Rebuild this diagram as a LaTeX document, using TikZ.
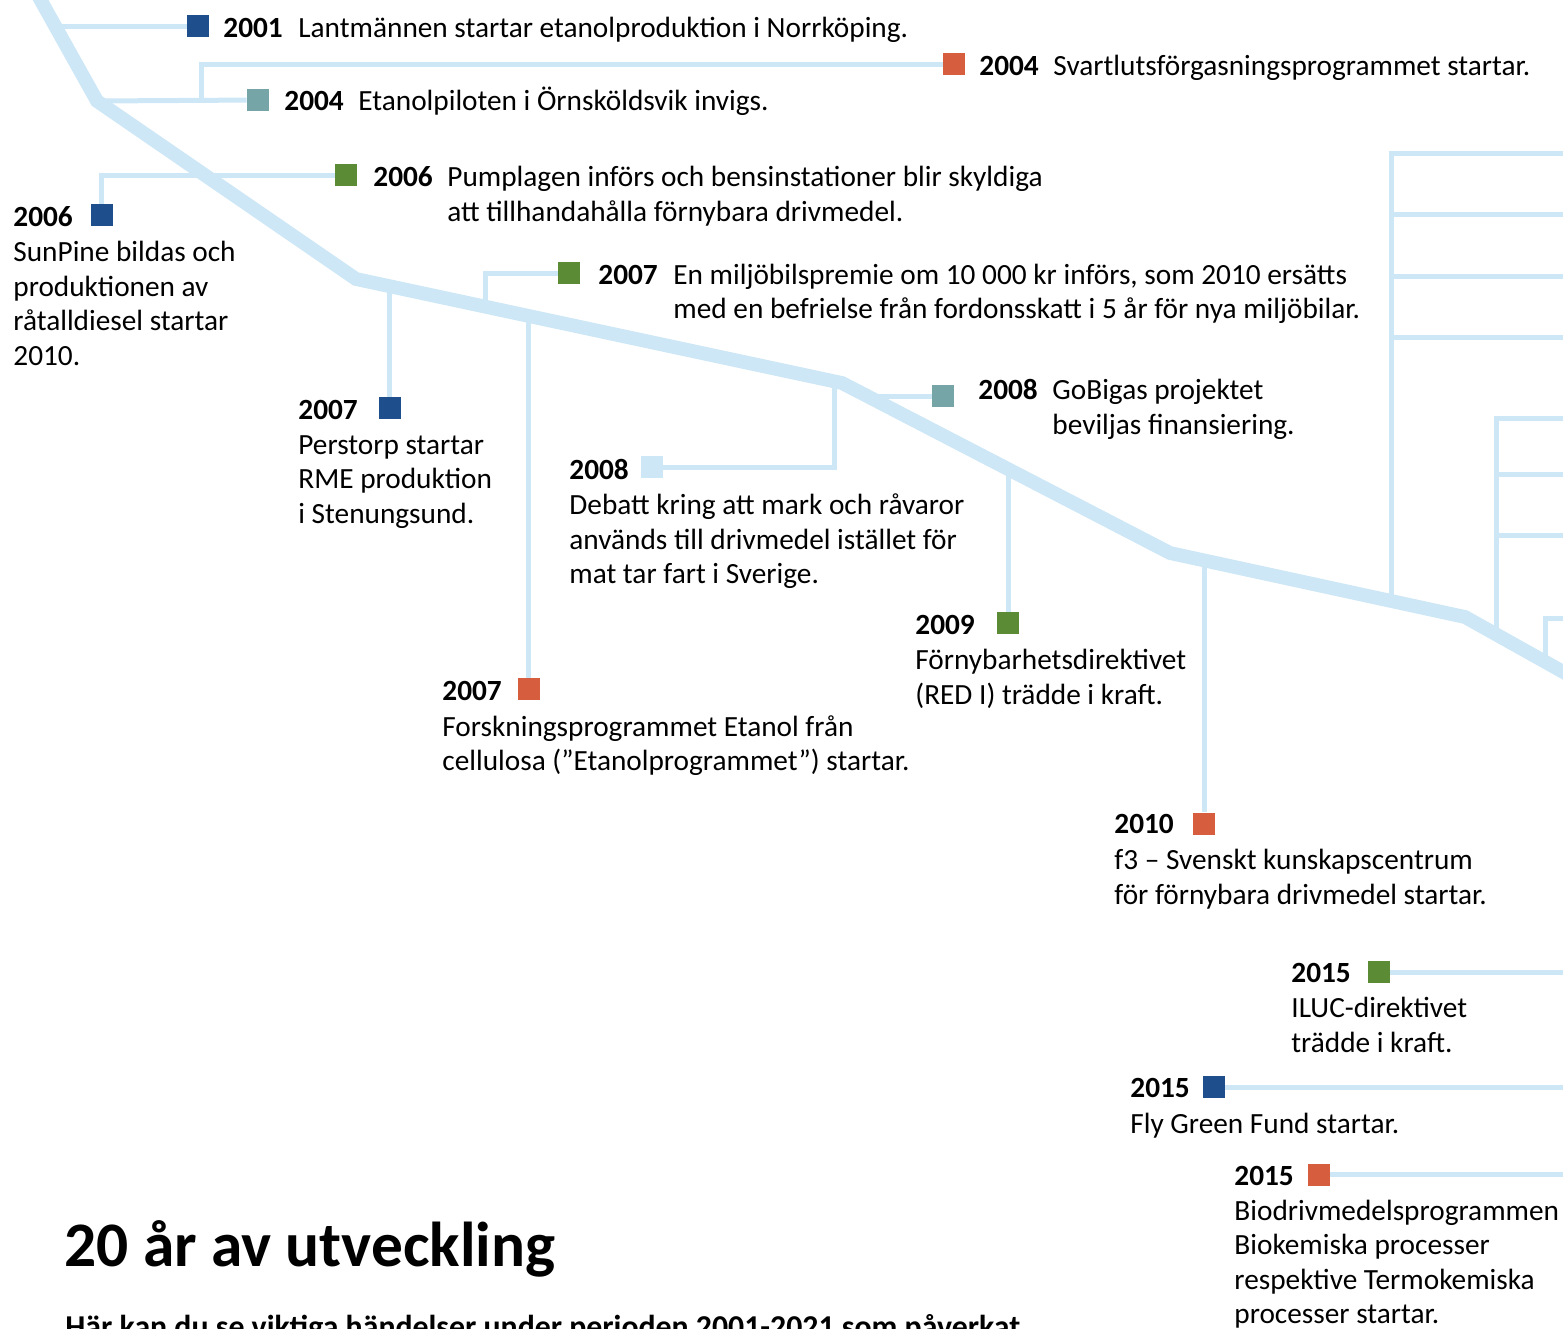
\documentclass[tikz,border=0pt]{standalone}
\usepackage{fontspec}
\setmainfont{Carlito}
\definecolor{lineblue}{HTML}{CDE7F7}
\definecolor{cblue}{HTML}{1F4E8C}
\definecolor{cteal}{HTML}{76A5A8}
\definecolor{cgreen}{HTML}{5B8B35}
\definecolor{corange}{HTML}{D65E3F}
\tikzset{
  mainline/.style={draw=lineblue, line width=6.9pt},
  branch/.style={draw=lineblue, line width=2.5pt},
  sq/.style={rectangle, minimum size=11pt, inner sep=0pt, draw=none},
  txt/.style={anchor=base west, inner sep=0pt, font=\fontsize{14.65}{17.35}\selectfont},
  yr/.style={anchor=base west, inner sep=0pt, font=\fontsize{14.65}{17.35}\selectfont\bfseries},
}
\begin{document}
\begin{tikzpicture}[x=0.5pt, y=-0.5pt]
\useasboundingbox (0,0) rectangle (1563,1328);
\clip (0,0) rectangle (1563,1328);

% squares
\node[sq, fill=cblue]   (s2001)  at (198,26) {};
\node[sq, fill=corange] (s2004o) at (954,64) {};
\node[sq, fill=cteal]   (s2004t) at (258,100) {};
\node[sq, fill=cgreen]  (s2006g) at (346,175) {};
\node[sq, fill=cblue]   (s2006b) at (101.5,215) {};
\node[sq, fill=cblue]   (s2007b) at (389.5,408) {};
\node[sq, fill=cgreen]  (s2007g) at (569,273) {};
\node[sq, fill=corange] (s2007o) at (528.5,689) {};
\node[sq, fill=cteal]   (s2008t) at (943,396) {};
\node[sq, fill=lineblue](s2008l) at (652,467) {};
\node[sq, fill=cgreen]  (s2009)  at (1008,623) {};
\node[sq, fill=corange] (s2010)  at (1204,823.5) {};
\node[sq, fill=cgreen]  (s2015g) at (1379,972) {};
\node[sq, fill=cblue]   (s2015b) at (1214,1087) {};
\node[sq, fill=corange] (s2015o) at (1319,1174.5) {};

% junction coordinates on the main line
\coordinate (m0) at (35,-10);
\coordinate (m1) at (97,101);
\coordinate (m2) at (356,279);
\coordinate (m3) at (842,383);
\coordinate (m4) at (1170,553);
\coordinate (m5) at (1465,617);
\coordinate (m6) at (1600,692.5);
\coordinate (j2001) at (54,26);
\coordinate (k2004) at (201,100);
\coordinate (j2007b) at (389.5,282);
\coordinate (j2007g) at (485.5,304);
\coordinate (j2007o) at (528.5,312);
\coordinate (j2008l) at (834.5,378);
\coordinate (j2008t) at (862,396);
\coordinate (j2009) at (1008,466);
\coordinate (j2010) at (1204,557);
\coordinate (ja) at (1391.5,598);
\coordinate (jb) at (1496.5,631);
\coordinate (jc) at (1545.5,659);
\coordinate (e1) at (1580,153.5);
\coordinate (e2) at (1580,214.5);
\coordinate (e3) at (1580,276.5);
\coordinate (e4) at (1580,337.5);
\coordinate (e5) at (1580,418.5);
\coordinate (e6) at (1580,474.5);
\coordinate (e7) at (1580,535.5);
\coordinate (e8) at (1580,618.5);
\coordinate (e9) at (1580,972);
\coordinate (e10) at (1580,1087);
\coordinate (e11) at (1580,1174.5);

% branches
\draw[branch] (j2001) -- (s2001);
\draw[branch] (m1) -- (s2004t);
\draw[branch] (k2004) |- (s2004o);
\draw[branch] (s2006g) -| (s2006b);
\draw[branch] (j2007b) -- (s2007b);
\draw[branch] (j2007g) |- (s2007g);
\draw[branch] (j2007o) -- (s2007o);
\draw[branch] (j2008l) |- (s2008l);
\draw[branch] (j2008t) -- (s2008t);
\draw[branch] (j2009) -- (s2009);
\draw[branch] (j2010) -- (s2010);
\draw[branch] (ja) |- (e1);
\draw[branch] (ja |- e2) -- (e2);
\draw[branch] (ja |- e3) -- (e3);
\draw[branch] (ja |- e4) -- (e4);
\draw[branch] (jb) |- (e5);
\draw[branch] (jb |- e6) -- (e6);
\draw[branch] (jb |- e7) -- (e7);
\draw[branch] (jc) |- (e8);
\draw[branch] (s2015g) -- (e9);
\draw[branch] (s2015b) -- (e10);
\draw[branch] (s2015o) -- (e11);

% main line
\draw[mainline] (m0) -- (m1) -- (m2) -- (m3) -- (m4) -- (m5) -- (m6);

% texts
\node[yr]  (y2001) at (223,37) {2001};
\node[txt] (t2001) at (298,37) {Lantmännen startar etanolproduktion i Norrköping.};

\node[yr]  (y2004o) at (979,75) {2004};
\node[txt] (t2004o) at (1053,75) {Svartlutsförgasningsprogrammet startar.};

\node[yr]  (y2004t) at (284,110) {2004};
\node[txt] (t2004t) at (358,110) {Etanolpiloten i Örnsköldsvik invigs.};

\node[yr]  (y2006g) at (373,186) {2006};
\node[txt] (t2006ga) at (447,186) {Pumplagen införs och bensinstationer blir skyldiga};
\node[txt] (t2006gb) at (447,221) {att tillhandahålla förnybara drivmedel.};

\node[yr]  (y2006b) at (13,226) {2006};
\node[txt] (t2006ba) at (13,261) {SunPine bildas och};
\node[txt] (t2006bb) at (13,296) {produktionen av};
\node[txt] (t2006bc) at (13,330) {råtalldiesel startar};
\node[txt] (t2006bd) at (13,365) {2010.};

\node[yr]  (y2007b) at (298,419) {2007};
\node[txt] (t2007ba) at (298,454) {Perstorp startar};
\node[txt] (t2007bb) at (298,488) {RME produktion};
\node[txt] (t2007bc) at (298,523) {i Stenungsund.};

\node[yr]  (y2007g) at (598,284) {2007};
\node[txt] (t2007ga) at (673,284) {En miljöbilspremie om 10 000 kr införs, som 2010 ersätts};
\node[txt] (t2007gb) at (673,318) {med en befrielse från fordonsskatt i 5 år för nya miljöbilar.};

\node[yr]  (y2007o) at (442,700) {2007};
\node[txt] (t2007oa) at (442,736) {Forskningsprogrammet Etanol från};
\node[txt] (t2007ob) at (442,770) {cellulosa (”Etanolprogrammet”) startar.};

\node[yr]  (y2008t) at (978,399) {2008};
\node[txt] (t2008ta) at (1052,399) {GoBigas projektet};
\node[txt] (t2008tb) at (1052,434) {beviljas finansiering.};

\node[yr]  (y2008l) at (569,479) {2008};
\node[txt] (t2008la) at (569,514) {Debatt kring att mark och råvaror};
\node[txt] (t2008lb) at (569,549) {används till drivmedel istället för};
\node[txt] (t2008lc) at (569,583) {mat tar fart i Sverige.};

\node[yr]  (y2009) at (915,634) {2009};
\node[txt] (t2009a) at (915,669) {Förnybarhetsdirektivet};
\node[txt] (t2009b) at (915,704) {(RED I) trädde i kraft.};

\node[yr]  (y2010) at (1114,833) {2010};
\node[txt] (t2010a) at (1114,869) {f3 – Svenskt kunskapscentrum};
\node[txt] (t2010b) at (1114,904) {för förnybara drivmedel startar.};

\node[yr]  (y2015g) at (1291,982) {2015};
\node[txt] (t2015ga) at (1291,1017) {ILUC-direktivet};
\node[txt] (t2015gb) at (1291,1052) {trädde i kraft.};

\node[yr]  (y2015b) at (1130,1097) {2015};
\node[txt] (t2015b) at (1130,1133) {Fly Green Fund startar.};

\node[yr]  (y2015o) at (1234,1185) {2015};
\node[txt] (t2015oa) at (1234,1220) {Biodrivmedelsprogrammen};
\node[txt] (t2015ob) at (1234,1254) {Biokemiska processer};
\node[txt] (t2015oc) at (1234,1289) {respektive Termokemiska};
\node[txt] (t2015od) at (1234,1323) {processer startar.};

\node[anchor=base west, inner sep=0pt, font=\fontsize{31.7}{36}\selectfont\bfseries] (title) at (64,1266) {20 år av utveckling};
\node[anchor=base west, inner sep=0pt, font=\fontsize{15.9}{19}\selectfont\bfseries] (sub) at (65,1337) {Här kan du se viktiga händelser under perioden 2001-2021 som påverkat};
\end{tikzpicture}
\end{document}
